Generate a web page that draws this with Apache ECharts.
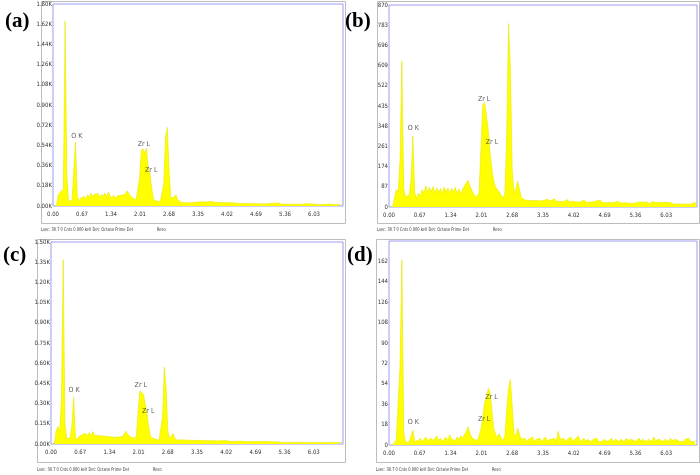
<!DOCTYPE html>
<html>
<head>
<meta charset="utf-8">
<script src="https://cdn.jsdelivr.net/npm/echarts@6/dist/echarts.min.js"></script>
<style>
html,body{margin:0;padding:0;background:#fff;}
#chart{width:700px;height:475px;}
</style>
</head>
<body>
<div id="chart"></div>
<script>
// Channel energies (keV)
const energyKeV = [
0.00,0.04,0.08,0.12,0.16,0.20,0.24,0.28,0.32,0.36,
0.40,0.44,0.48,0.52,0.56,0.60,0.64,0.68,0.72,0.76,
0.80,0.84,0.88,0.92,0.96,1.00,1.04,1.08,1.12,1.16,
1.20,1.24,1.28,1.32,1.36,1.40,1.44,1.48,1.52,1.56,
1.60,1.64,1.68,1.72,1.76,1.80,1.84,1.88,1.92,1.96,
2.00,2.04,2.08,2.12,2.16,2.20,2.24,2.28,2.32,2.36,
2.40,2.44,2.48,2.52,2.56,2.60,2.64,2.68,2.72,2.76,
2.80,2.84,2.88,2.92,2.96,3.00,3.04,3.08,3.12,3.16,
3.20,3.24,3.28,3.32,3.36,3.40,3.44,3.48,3.52,3.56,
3.60,3.64,3.68,3.72,3.76,3.80,3.84,3.88,3.92,3.96,
4.00,4.04,4.08,4.12,4.16,4.20,4.24,4.28,4.32,4.36,
4.40,4.44,4.48,4.52,4.56,4.60,4.64,4.68,4.72,4.76,
4.80,4.84,4.88,4.92,4.96,5.00,5.04,5.08,5.12,5.16,
5.20,5.24,5.28,5.32,5.36,5.40,5.44,5.48,5.52,5.56,
5.60,5.64,5.68,5.72,5.76,5.80,5.84,5.88,5.92,5.96,
6.00,6.04,6.08,6.12,6.16,6.20,6.24,6.28,6.32,6.36,
6.40,6.44,6.48,6.52,6.56,6.60,6.64,6.68
];

// Counts, panel (a)
const countsA = [
0,0,0,95,120,110,150,1650,260,45,
40,48,60,570,90,45,70,55,85,65,
100,75,115,80,105,90,112,78,104,85,
115,80,125,90,70,95,68,88,72,95,
82,98,90,135,105,110,72,85,55,70,
250,490,510,470,515,330,290,160,60,45,
42,38,40,50,200,610,700,330,70,60,
80,100,55,42,34,40,30,38,28,36,
30,42,32,48,36,28,38,26,36,29,
37,27,40,44,30,26,33,25,31,24,
30,23,29,22,28,35,24,27,21,26,
22,27,20,25,21,24,19,25,20,24,
19,23,18,24,20,17,22,18,23,17,
28,19,16,21,17,22,16,20,15,19,
17,21,15,20,16,14,19,15,20,14,
18,15,13,18,14,19,13,17,15,13,
17,14,13,17,13,18,14,16
];
// Counts, panel (b)
const countsB = [
0,0,0,40,75,65,200,630,80,45,
38,50,120,305,60,35,60,45,75,60,
90,62,85,65,88,60,82,64,80,58,
85,64,82,60,80,66,84,58,78,55,
75,90,95,115,90,85,55,60,42,65,
250,440,450,445,330,230,160,110,85,78,
65,50,40,55,300,790,600,160,60,80,
110,75,40,35,30,38,28,36,27,35,
29,36,26,34,28,25,33,37,27,32,
35,25,32,24,31,23,30,32,22,29,
24,30,22,29,21,28,30,21,27,20,
28,21,20,27,21,29,19,26,18,25,
20,26,18,19,25,19,17,24,18,23,
17,23,16,22,17,15,22,16,21,15,
21,16,14,24,16,19,14,20,13,19,
14,20,13,19,14,12,19,13,18,12,
18,13,19,12,18,13,22,13
];
// Counts, panel (c)
const countsC = [
0,0,0,100,130,90,320,1370,150,40,
35,45,140,345,50,32,55,45,70,60,
78,62,85,60,92,65,75,62,72,60,
70,58,68,55,65,52,62,50,64,52,
60,55,75,95,70,65,50,56,42,62,
250,395,405,370,300,225,130,60,45,40,
35,30,28,40,200,570,420,100,40,60,
78,45,30,26,30,25,31,24,28,22,
28,24,26,22,27,20,27,21,24,22,
25,19,25,18,24,17,23,18,24,17,
26,17,20,18,19,17,20,15,21,14,
20,15,18,16,17,15,18,13,19,13,
18,13,19,12,18,13,16,14,16,13,
16,14,12,17,12,15,13,15,12,15,
12,15,13,14,12,15,11,16,11,15,
12,14,12,14,11,13,11,14,10,14,
11,13,11,14,10,13,12,12
];
// Counts, panel (d)
const countsD = [
0,0,0,2,5,6,70,163,12,2,
1,3,8,13,3,2,4,6,3,5,
7,4,3,6,4,5,8,4,6,3,
5,7,4,9,5,6,4,7,5,8,
6,9,12,16,10,7,5,6,4,8,
14,24,38,42,50,46,30,14,9,7,
10,6,4,8,30,50,58,35,10,8,
15,9,5,4,6,3,5,4,7,3,
5,4,6,3,5,7,4,3,5,4,
6,3,12,5,4,6,3,5,4,7,
3,5,4,8,3,4,6,3,5,4,
3,5,4,6,3,4,3,5,4,3,
4,6,3,5,4,3,5,4,3,6,
4,3,5,4,3,4,6,3,5,4,
3,5,4,3,7,4,3,5,4,3,
5,4,3,6,4,3,5,4,3,4,
3,5,4,6,3,4,3,4
];

// Axis settings
const xMax = 6.70, xStep = 0.67;
const yMaxA = 1800, yStepA = 180;
const yMaxB = 870,  yStepB = 87;
const yMaxC = 1500, yStepC = 150;
const yMaxD = 180,  yStepD = 18;

// Peak labels [energy keV, counts, text]
const peaksA = [[0.55, 624, 'O K'], [2.10, 550, 'Zr L'], [2.27, 321, 'Zr L']];
const peaksB = [[0.53, 340, 'O K'], [2.07, 466, 'Zr L'], [2.24, 278, 'Zr L']];
const peaksC = [[0.53, 403, 'O K'], [2.06, 440, 'Zr L'], [2.23, 243, 'Zr L']];
const peaksD = [[0.53, 20, 'O K'], [2.23, 42, 'Zr L'], [2.07, 22.6, 'Zr L']];

const panelLetters = ['(a)', '(b)', '(c)', '(d)'];
const footerText = 'Lsec: 30.7 0 Cnts 0.000 keV Det: Octane Prime Det';
const footerText2 = 'Reso';

const narrow = "'Liberation Sans Narrow','DejaVu Sans Condensed','Liberation Sans',sans-serif";

const grids = [
  {left: 53, top: 4, width: 290, height: 202},
  {left: 389, top: 5, width: 308, height: 202},
  {left: 51, top: 242, width: 292, height: 202},
  {left: 389, top: 241, width: 308, height: 204}
].map(g => Object.assign(g, {show: true, borderColor: '#9c9cf0', borderWidth: 1, backgroundColor: '#ffffff'}));

const yConf = [
  {max: yMaxA, step: yStepA, k: true, showMax: true},
  {max: yMaxB, step: yStepB, k: false, showMax: true},
  {max: yMaxC, step: yStepC, k: true, showMax: true},
  {max: yMaxD, step: yStepD, k: false, showMax: false}
];

const xAxes = grids.map((g, i) => ({
  type: 'value', gridIndex: i, min: 0, max: xMax, interval: xStep,
  axisLine: {show: false}, axisTick: {show: false}, splitLine: {show: false},
  axisLabel: {fontSize: 6, fontFamily: narrow, color: '#333', margin: 5, showMaxLabel: false,
    formatter: v => v.toFixed(2)}
}));

const yAxes = yConf.map((c, i) => ({
  type: 'value', gridIndex: i, min: 0, max: c.max, interval: c.step,
  axisLine: {show: false}, axisTick: {show: false}, splitLine: {show: false},
  axisLabel: {fontSize: 6, fontFamily: narrow, color: '#333', margin: 1, showMaxLabel: c.showMax,
    formatter: v => c.k ? (v / 1000).toFixed(2) + 'K' : String(Math.round(v))}
}));

const spectra = [countsA, countsB, countsC, countsD];
const peaks = [peaksA, peaksB, peaksC, peaksD];

const series = [];
spectra.forEach((counts, i) => {
  series.push({
    type: 'line', xAxisIndex: i, yAxisIndex: i, z: 2,
    data: energyKeV.map((e, j) => [e, counts[j]]),
    showSymbol: false, silent: true, animation: false,
    lineStyle: {color: '#e8e800', width: 0.6},
    areaStyle: {color: '#ffff00', opacity: 1}
  });
  series.push({
    type: 'scatter', xAxisIndex: i, yAxisIndex: i, symbolSize: 0, silent: true, animation: false, z: 10,
    data: peaks[i].map(p => ({value: [p[0], p[1]], name: p[2]})),
    label: {show: true, position: 'inside', formatter: '{b}', fontSize: 7, fontFamily: narrow, color: '#333'}
  });
});

const frames = [
  {x: 41, y: 1, w: 304, h: 222},
  {x: 377, y: 1, w: 322, h: 222},
  {x: 37, y: 239, w: 308, h: 223},
  {x: 376, y: 239, w: 323, h: 223}
];
const letterPos = [[5, 22], [345, 22], [3, 256], [347, 256]];
const footerPos = [[41, 230], [377, 230], [37, 470], [376, 470]];

const graphic = [];
frames.forEach(f => graphic.push({type: 'rect', silent: true, z: -1,
  shape: {x: f.x + 0.5, y: f.y + 0.5, width: f.w, height: f.h},
  style: {fill: 'none', stroke: '#bdbdbd', lineWidth: 1}}));
panelLetters.forEach((t, i) => graphic.push({type: 'text', x: letterPos[i][0], y: letterPos[i][1],
  style: {text: t, font: "bold 21px 'Liberation Serif','Times New Roman',serif", fill: '#000', textVerticalAlign: 'middle'}}));
footerPos.forEach(p => {
  graphic.push({type: 'text', x: p[0], y: p[1], scaleX: 0.8,
    style: {text: footerText, font: "5px " + narrow, fill: '#333', textVerticalAlign: 'middle'}});
  graphic.push({type: 'text', x: p[0] + 116, y: p[1], scaleX: 0.8,
    style: {text: footerText2, font: "5px " + narrow, fill: '#333', textVerticalAlign: 'middle'}});
});

const chart = echarts.init(document.getElementById('chart'), null, {renderer: 'canvas'});
chart.setOption({
  animation: false,
  backgroundColor: '#ffffff',
  grid: grids,
  xAxis: xAxes,
  yAxis: yAxes,
  series: series,
  graphic: graphic
});
</script>
</body>
</html>
